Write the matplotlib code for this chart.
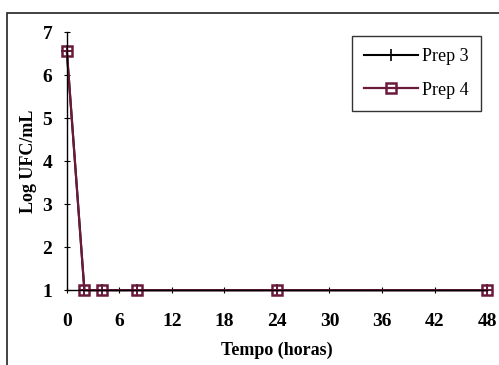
import matplotlib.pyplot as plt
from matplotlib.patches import Rectangle

# Contagem de viaveis ao longo do tempo
tempo = [0, 2, 4, 8, 24, 48]
prep3 = [6.55, 1, 1, 1, 1, 1]
prep4 = [6.55, 1, 1, 1, 1, 1]

xticks = [0, 6, 12, 18, 24, 30, 36, 42, 48]
yticks = [1, 2, 3, 4, 5, 6, 7]

plt.rcParams['font.family'] = 'Liberation Serif'
plt.rcParams['font.weight'] = 'bold'

fig = plt.figure(figsize=(4.99, 3.65), dpi=100)
ax = fig.add_axes([0.134, 0.205, 0.842, 0.707])

# moldura externa
fig.patches.append(Rectangle((0.014, -0.1), 1.1, 1.064, transform=fig.transFigure,
                             fill=False, edgecolor='#222222', lw=1.2))

ax.plot(tempo, prep3, color='black', marker='+', ms=9, mew=1.2, lw=1.5,
        label='Prep 3', clip_on=False)
ax.plot(tempo, prep4, color='#6b1a3c', marker='s', ms=7.5, mfc='none', mew=1.8,
        lw=1.6, label='Prep 4', clip_on=False)
ax.plot(tempo, prep4, color='#6b1a3c', marker='+', ms=7, mew=1.4, lw=0, clip_on=False)

ax.set_xlim(0, 48)
ax.set_ylim(1, 7)
ax.set_xticks(xticks)
ax.set_yticks(yticks)
ax.tick_params(direction='inout', length=5, width=0.8, labelsize=14)
ax.tick_params(axis='x', pad=14)
ax.tick_params(axis='y', pad=8)
for s in ['top', 'right']:
    ax.spines[s].set_visible(False)
ax.spines['left'].set_linewidth(1.0)
ax.spines['bottom'].set_linewidth(1.0)
ax.set_xlabel('Tempo (horas)', fontsize=13, fontweight='bold', labelpad=8)
ax.set_ylabel('Log UFC/mL', fontsize=13, fontweight='bold', labelpad=4)

leg = ax.legend(loc='upper right', bbox_to_anchor=(0.995, 1.0), fancybox=False,
                frameon=True, edgecolor='black', handlelength=3.0, handletextpad=0.2,
                borderpad=0.7, labelspacing=0.9, borderaxespad=0.2,
                prop={'weight': 'normal', 'size': 13})
leg.get_frame().set_linewidth(1.0)

fig.savefig('out.png', dpi=100)
